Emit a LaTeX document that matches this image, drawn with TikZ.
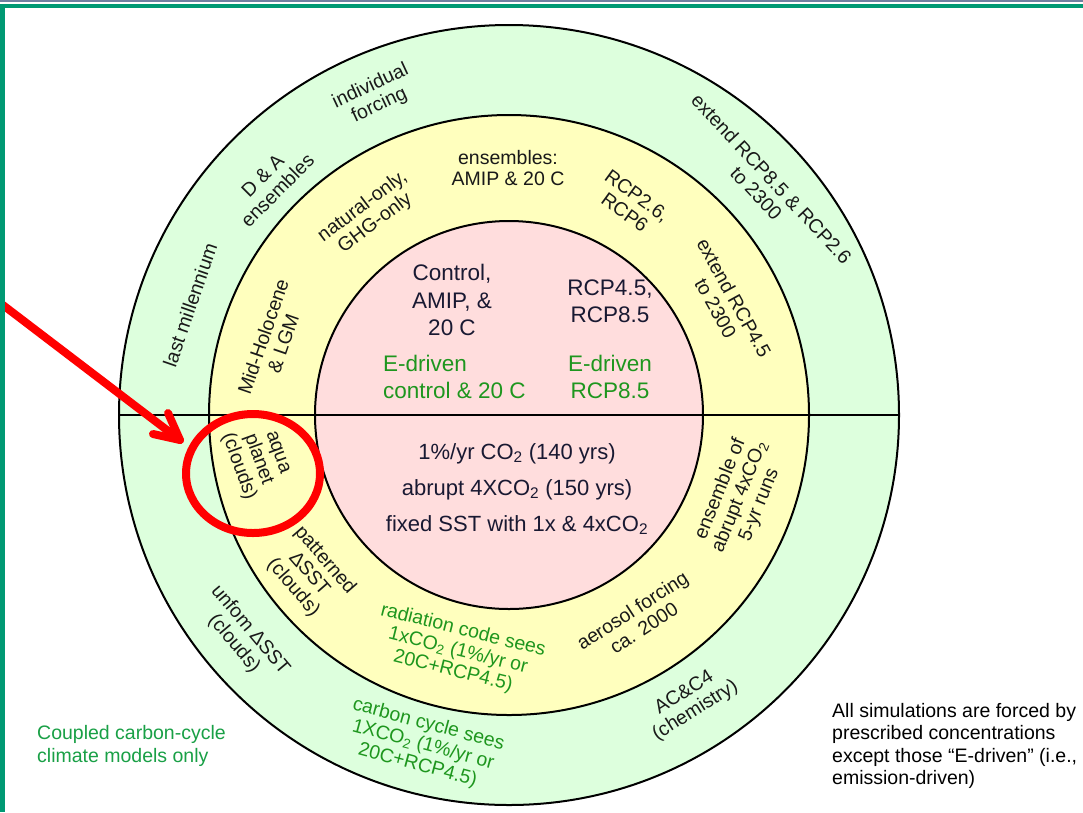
\documentclass[tikz,border=0pt]{standalone}
\usepackage{fontspec}
\setmainfont{Liberation Sans}
\definecolor{ringgreen}{RGB}{221,255,221}
\definecolor{ringyellow}{RGB}{255,255,190}
\definecolor{ringpink}{RGB}{255,221,221}
\definecolor{txtgreen}{RGB}{30,150,30}
\definecolor{notegreen}{RGB}{25,160,70}
\definecolor{frameteal}{RGB}{0,153,115}
\definecolor{framegray}{RGB}{112,128,160}
\definecolor{inktext}{RGB}{25,25,50}
\definecolor{ringink}{RGB}{25,25,25}
\newcommand{\cotwo}{CO\textsubscript{2}}
\begin{document}
\begin{tikzpicture}[x=1pt,y=-1pt,
  ringline/.style={draw=black, line width=2pt},
  ringtxt/.style={align=center, inner sep=0pt, text=ringink, font=\fontsize{19.5}{21}\selectfont},
  ringgtxt/.style={ringtxt, text=txtgreen},
  innertxt/.style={align=center, inner sep=0pt, text=inktext, font=\fontsize{22.5}{27.5}\selectfont},
  innergtxt/.style={innertxt, text=txtgreen},
  notetxt/.style={align=left, anchor=west, inner sep=0pt, font=\fontsize{19.5}{22.5}\selectfont},
  redmark/.style={draw=red, line width=8pt, line cap=round, line join=round}
]
\useasboundingbox (0,0) rectangle (1083,812);
\fill[white] (0,0) rectangle (1083,812);

% rings
\coordinate (c) at (509,415);
\path[fill=ringgreen, ringline] (c) circle[radius=390pt];
\path[fill=ringyellow, ringline] (c) circle[radius=300pt];
\path[fill=ringpink, ringline] (c) circle[radius=194pt];
\coordinate (hl) at (119,415);
\coordinate (hr) at (899,415);
\draw[black, line width=1.5pt] (hl) -- (hr);

% outer ring
\node[ringtxt, rotate=25] (indiv) at (375,96) {individual\\forcing};
\node[ringtxt, rotate=45] (da) at (270,183) {D \& A\\ensembles};
\node[ringtxt, rotate=71] (lastmil) at (190,305) {last millennium};
\node[ringtxt, rotate=-47] (ext85) at (764,186) {extend RCP8.5 \& RCP2.6\\to 2300};
\node[ringtxt, rotate=-50] (unif) at (242,637) {unfom ΔSST\\(clouds)};
\node[ringgtxt, rotate=-15] (carbon) at (423,745) {carbon cycle sees\\1X\cotwo{} (1\%/yr or\\20C+RCP4.5)};
\node[ringtxt, rotate=32] (acc) at (690,702) {AC\&C4\\(chemistry)};

% yellow ring
\node[ringtxt] (ens) at (508,168) {ensembles:\\AMIP \& 20 C};
\node[ringtxt, rotate=37] (nat) at (369,215) {natural-only,\\GHG-only};
\node[ringtxt, rotate=71] (midh) at (273,340) {Mid-Holocene\\\& LGM};
\node[ringtxt, rotate=-36] (rcp26) at (631,204) {RCP2.6,\\RCP6};
\node[ringtxt, rotate=-61] (ext45) at (725,303) {extend RCP4.5\\to 2300};
\node[ringtxt, rotate=-70] (aqua) at (257,460) {aqua\\planet\\(clouds)};
\node[ringtxt, rotate=-49] (patt) at (309,574) {patterned\\ΔSST\\(clouds)};
\node[ringgtxt, rotate=-14] (rad) at (458,651) {radiation code sees\\1x\cotwo{} (1\%/yr or\\20C+RCP4.5)};
\node[ringtxt, rotate=33] (aer) at (638,619) {aerosol forcing\\ca. 2000};
\node[ringtxt, rotate=68] (abr) at (740,497) {ensemble of\\abrupt 4x\cotwo\\5-yr runs};

% inner circle
\node[innertxt] (ctrl) at (452,300) {Control,\\AMIP, \&\\20 C};
\node[innertxt] (rcp45) at (610,301) {RCP4.5,\\RCP8.5};
\node[innergtxt, align=left, anchor=west] (edc) at (383,377) {E-driven\\control \& 20 C};
\node[innergtxt] (edr) at (610,377) {E-driven\\RCP8.5};
\node[innertxt, font=\fontsize{22}{36}\selectfont] (abrupt) at (517,489) {1\%/yr \cotwo{} (140 yrs)\\abrupt 4X\cotwo{} (150 yrs)\\fixed SST with 1x \& 4x\cotwo};

% notes
\node[notetxt, text=notegreen] (coupled) at (37,746) {Coupled carbon-cycle\\climate models only};
\node[notetxt, text=black] (allsim) at (832,746) {All simulations are forced by\\prescribed concentrations\\except those “E-driven” (i.e.,\\emission-driven)};

% red highlight
\coordinate (arrstart) at (-5,299);
\coordinate (arrtip) at (180,440);
\draw[redmark] (arrstart) -- (arrtip);
\draw[redmark] (arrtip) ++(-27,-6) -- (arrtip) -- ++(-12,-27);
\draw[redmark] (253,473.5) ellipse[x radius=67pt, y radius=59.5pt];

% frame
\fill[framegray] (0,0) rectangle (1083,2);
\fill[frameteal] (0,3.5) rectangle (1083,7.5);
\fill[frameteal] (0,3.5) rectangle (4.5,812);
\end{tikzpicture}
\end{document}
